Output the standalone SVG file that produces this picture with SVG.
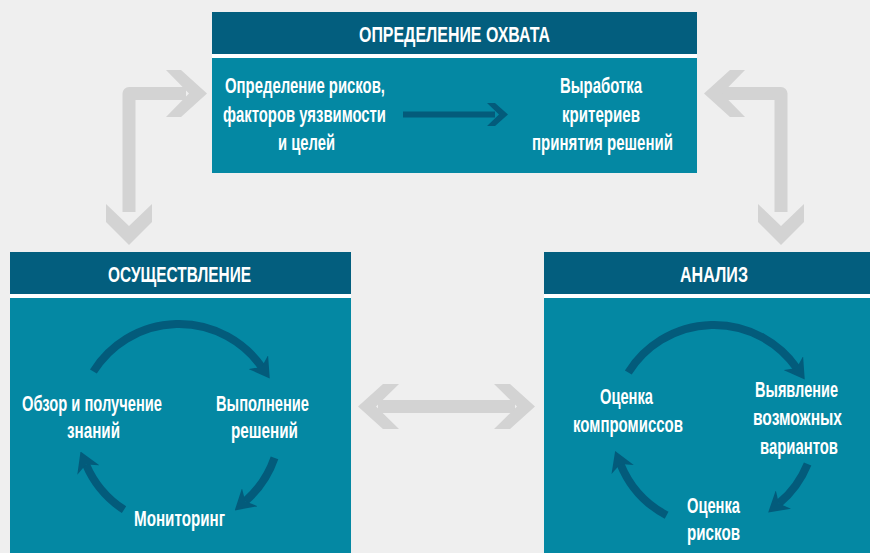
<svg xmlns="http://www.w3.org/2000/svg" width="870" height="553" viewBox="0 0 870 553">
<defs>
<style>
.hdr{fill:#035e7e}
.body{fill:#0488a3}
.gap{fill:#ffffff}
.gray{fill:#d3d3d3}
.grayline{fill:none;stroke:#d3d3d3;stroke-width:13;stroke-linejoin:round}
.arc{fill:none;stroke:#035b7b;stroke-width:8;marker-end:url(#head)}
text{font-family:"Liberation Sans",Arial,sans-serif;font-weight:bold;fill:#ffffff;text-anchor:middle}
.h{font-size:22px}
.t{font-size:21.5px}
</style>
<marker id="head" viewBox="0 0 20 24" markerWidth="20" markerHeight="24" refX="6" refY="12" orient="auto" markerUnits="userSpaceOnUse">
<path d="M0,0 L20,12 L0,24 L6,12 Z" fill="#035b7b"/>
</marker>
</defs>
<rect width="870" height="553" fill="#efefef"/>

<g id="scope">
<rect class="hdr" x="212" y="12" width="485" height="42"/>
<rect class="gap" x="212" y="54" width="485" height="4"/>
<rect class="body" x="212" y="58" width="485" height="115"/>
<text class="h" x="454.5" y="41.5" textLength="191" lengthAdjust="spacingAndGlyphs">ОПРЕДЕЛЕНИЕ ОХВАТА</text>
<text class="t" x="305" y="93" textLength="160" lengthAdjust="spacingAndGlyphs">Определение рисков,</text>
<text class="t" x="304.5" y="122" textLength="163" lengthAdjust="spacingAndGlyphs">факторов уязвимости</text>
<text class="t" x="306.5" y="150" textLength="57" lengthAdjust="spacingAndGlyphs">и целей</text>
<text class="t" x="601" y="93" textLength="82" lengthAdjust="spacingAndGlyphs">Выработка</text>
<text class="t" x="601" y="122" textLength="78" lengthAdjust="spacingAndGlyphs">критериев</text>
<text class="t" x="602.5" y="150" textLength="141" lengthAdjust="spacingAndGlyphs">принятия решений</text>
<rect x="403" y="111.5" width="92" height="6" fill="#035b7b"/>
<polygon points="487,103 495,103 508,114.5 495,126 487,126 499,114.5" fill="#035b7b"/>
</g>

<g id="implementation">
<rect class="hdr" x="10" y="252" width="341" height="42"/>
<rect class="gap" x="10" y="294" width="341" height="4"/>
<rect class="body" x="10" y="298" width="341" height="255"/>
<text class="h" x="179.5" y="282" textLength="143" lengthAdjust="spacingAndGlyphs">ОСУЩЕСТВЛЕНИЕ</text>
<text class="t" x="92" y="410.5" textLength="140" lengthAdjust="spacingAndGlyphs">Обзор и получение</text>
<text class="t" x="93.5" y="438" textLength="53" lengthAdjust="spacingAndGlyphs">знаний</text>
<text class="t" x="262.5" y="410.5" textLength="93" lengthAdjust="spacingAndGlyphs">Выполнение</text>
<text class="t" x="264.5" y="438" textLength="67" lengthAdjust="spacingAndGlyphs">решений</text>
<text class="t" x="179.5" y="526" textLength="91" lengthAdjust="spacingAndGlyphs">Мониторинг</text>
<path class="arc" d="M93.4,371.5 A101,101 0 0 1 261.7,367.0"/>
<path class="arc" d="M274.5,457.9 A101,101 0 0 1 245.3,501.2"/>
<path class="arc" d="M124.0,509.7 A101,101 0 0 1 86.0,464.5"/>
</g>

<g id="analysis">
<rect class="hdr" x="544" y="252" width="326" height="42"/>
<rect class="gap" x="544" y="294" width="326" height="4"/>
<rect class="body" x="544" y="298" width="326" height="255"/>
<text class="h" x="714" y="282" textLength="68" lengthAdjust="spacingAndGlyphs">АНАЛИЗ</text>
<text class="t" x="626.5" y="404" textLength="53" lengthAdjust="spacingAndGlyphs">Оценка</text>
<text class="t" x="628" y="432" textLength="110" lengthAdjust="spacingAndGlyphs">компромиссов</text>
<text class="t" x="796.5" y="397" textLength="83" lengthAdjust="spacingAndGlyphs">Выявление</text>
<text class="t" x="797.5" y="425" textLength="89" lengthAdjust="spacingAndGlyphs">возможных</text>
<text class="t" x="799" y="454" textLength="78" lengthAdjust="spacingAndGlyphs">вариантов</text>
<text class="t" x="713.5" y="513" textLength="53" lengthAdjust="spacingAndGlyphs">Оценка</text>
<text class="t" x="713.5" y="540" textLength="53" lengthAdjust="spacingAndGlyphs">рисков</text>
<path class="arc" d="M628.3,372.5 A101,101 0 0 1 796.7,368.0"/>
<path class="arc" d="M807.6,463.9 A101,101 0 0 1 778.9,503.4"/>
<path class="arc" d="M666.6,515.2 A101,101 0 0 1 620.4,463.9"/>
</g>

<g id="connectors">
<path class="grayline" d="M129,212 V93.5 H186"/>
<polygon class="gray" points="166,70 181,70 207,93.5 181,117 166,117 189,93.5"/>
<polygon class="gray" points="106,204 129,226 152,204 152,222 129,245 106,222"/>
<path class="grayline" d="M781,212 V93.5 H722"/>
<polygon class="gray" points="745,70 730,70 704,93.5 730,117 745,117 722,93.5"/>
<polygon class="gray" points="758,204 781,226 804,204 804,222 781,245 758,222"/>
<rect class="gray" x="378" y="400" width="137" height="13"/>
<polygon class="gray" points="399,384 383,384 358,406.5 383,429 399,429 376,406.5"/>
<polygon class="gray" points="494,384 510,384 535,406.5 510,429 494,429 517,406.5"/>
</g>
</svg>
